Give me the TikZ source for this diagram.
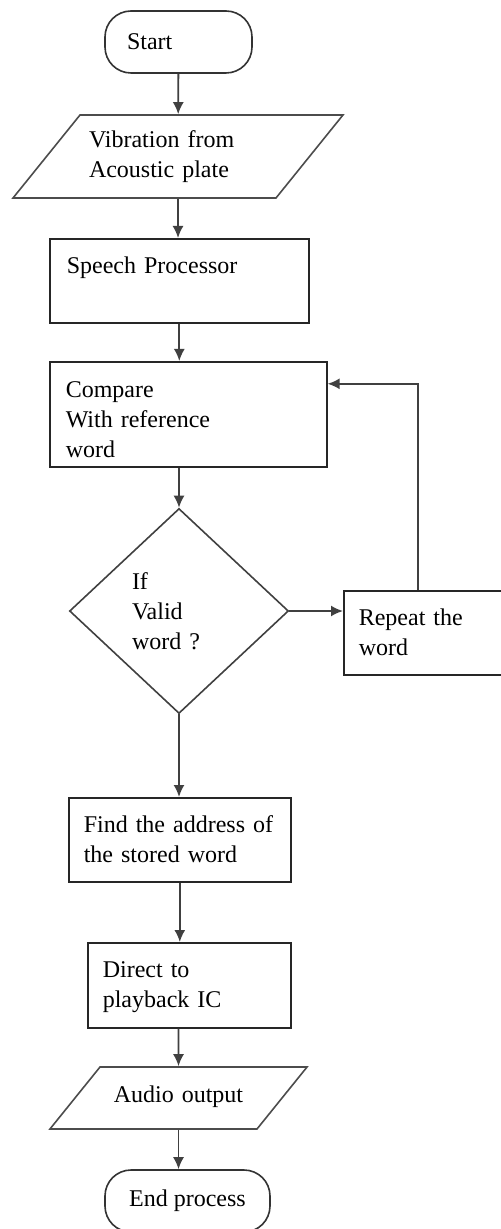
\documentclass[tikz,border=0pt]{standalone}
\usepackage{fontspec}
\setmainfont{Liberation Serif}
\usepackage{tikz}
\usetikzlibrary{shapes.geometric,arrows.meta,positioning}

\begin{document}
\begin{tikzpicture}[
    x=0.5pt, y=-0.5pt,
    font=\fontsize{12}{15}\selectfont,
    process/.style={rectangle, draw=black!85, line width=0.8pt, anchor=north west,
                    align=left, inner ysep=0pt, text height=17.5pt},
    io/.style={trapezium, trapezium left angle=51.1, trapezium right angle=128.9,
               draw=black!70, line width=0.8pt},
    terminal/.style={rectangle, rounded corners=13pt, draw=black!80, line width=0.8pt,
                     minimum height=31pt, inner ysep=0pt},
    decision/.style={diamond, draw=black!75, line width=0.8pt, inner sep=0pt,
                     minimum width=109.5pt, minimum height=102.5pt},
    arrow/.style={-{Latex[length=6pt,width=5.5pt]}, line width=0.9pt, draw=black!75}
]
\useasboundingbox (0,0) rectangle (500,1229);

% Input
\node[terminal, minimum width=73.5pt, text width=51.5pt, inner xsep=11pt, align=left]
    (start) at (178.5,42) {Start};
\node[io, text width=89pt, align=left, inner xsep=4.5pt, inner ysep=7.5pt,
      text height=9pt, text depth=17.5pt]
    (vib) at (178,156.5) {Vibration from\\Acoustic plate};
\node[process, minimum width=129.5pt, text width=112.5pt, inner xsep=8.5pt, text depth=24.5pt]
    (speech) at (49,238) {Speech Processor};

% Recognition
\node[process, minimum width=138.5pt, text width=122.5pt, inner xsep=8pt,
      text height=18pt, text depth=34.5pt]
    (compare) at (49,361) {Compare\\With reference\\word};
\node[decision, text width=47pt, align=left] (valid) at (179,611) {If\\Valid\\word ?};
\node[process, minimum width=83.5pt, text width=68.5pt, inner xsep=7.5pt, text depth=24.5pt]
    (repeat) at (343,590) {Repeat the\\word};

% Output
\node[process, minimum width=111pt, text width=96pt, inner xsep=7.5pt, text depth=24.5pt]
    (find) at (68,797) {\mbox{Find the address of}\\the stored word};
\node[process, minimum width=101.5pt, text width=86.5pt, inner xsep=7.5pt, text depth=25pt]
    (direct) at (87,942) {Direct to\\playback IC};
\node[io, text width=70pt, align=center, inner xsep=4.25pt, inner ysep=9.5pt,
      text height=8pt, text depth=4pt]
    (audio) at (178.5,1098) {Audio output};
\node[terminal, minimum width=82.5pt] (stop) at (187.5,1201) {End process};

% Connections
\draw[arrow] (start) -- (vib);
\draw[arrow] (vib.south) -- (vib.south |- speech.north);
\draw[arrow] (speech.south) -- (speech.south |- compare.north);
\draw[arrow] (compare.south -| valid) -- (valid.north);
\draw[arrow] (valid.east) -- (valid.east -| repeat.west);
\draw[arrow] ([xshift=-4.75pt]repeat.north) |- ([yshift=15.25pt]compare.east);
\draw[arrow] (valid.south) -- (valid.south |- find.north);
\draw[arrow] (find.south) -- (find.south |- direct.north);
\draw[arrow] (direct.south -| audio) -- (audio.north);
\draw[arrow] (audio.south) -- (audio.south |- stop.north);

\end{tikzpicture}
\end{document}
